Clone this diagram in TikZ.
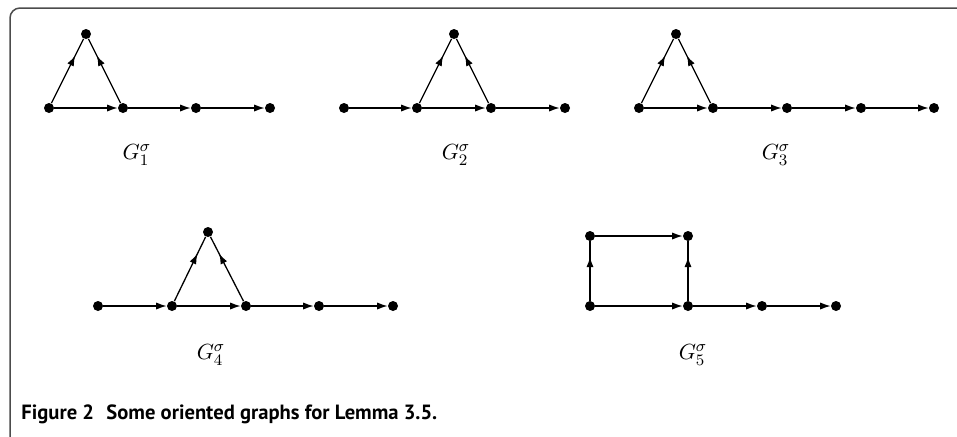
\documentclass[tikz,border=0pt]{standalone}
\usepackage{fontspec}
\newfontfamily\capfont{PT Sans}
\usetikzlibrary{arrows.meta,decorations.markings}
\begin{document}
\begin{tikzpicture}[x=0.5pt,y=-0.5pt,
  vtx/.style={circle,fill,inner sep=0pt,minimum size=5pt},
  arc/.style={line width=0.65pt,-{Latex[length=5.2pt,width=3.6pt]}},
  midarc/.style={line width=0.65pt,postaction={decorate},
    decoration={markings,mark=at position 0.74 with {\arrow{Latex[length=5.2pt,width=3.6pt]}}}},
  lbl/.style={font=\fontsize{11}{13}\selectfont},
  frame/.style={line width=0.75pt,gray!60!black,rounded corners=5pt}]
\useasboundingbox (0,0) rectangle (957,436);
% panel frame
\coordinate (fb) at (10,446);
\coordinate (fc) at (10,8);
\coordinate (fr) at (962,8);
\draw[frame] (fb) -- (fc) -- (fr);

% G1
\node[vtx] (a1) at (49,108) {};
\node[vtx] (a2) at (123,108) {};
\node[vtx] (a3) at (196,108) {};
\node[vtx] (a4) at (270,108) {};
\node[vtx] (a0) at (86,34) {};
\draw[arc] (a1) -- (a2);
\draw[arc] (a2) -- (a3);
\draw[arc] (a3) -- (a4);
\draw[midarc] (a1) -- (a0);
\draw[midarc] (a2) -- (a0);
\node[lbl] (l1) at (137,155) {$G_1^\sigma$};

% G2
\node[vtx] (b1) at (344,108) {};
\node[vtx] (b2) at (417,108) {};
\node[vtx] (b3) at (491,108) {};
\node[vtx] (b4) at (565,108) {};
\node[vtx] (b0) at (454,34) {};
\draw[arc] (b1) -- (b2);
\draw[arc] (b2) -- (b3);
\draw[arc] (b3) -- (b4);
\draw[midarc] (b2) -- (b0);
\draw[midarc] (b3) -- (b0);
\node[lbl] (l2) at (456,155) {$G_2^\sigma$};

% G3
\node[vtx] (c1) at (639,108) {};
\node[vtx] (c2) at (713,108) {};
\node[vtx] (c3) at (787,108) {};
\node[vtx] (c4) at (861,108) {};
\node[vtx] (c5) at (934,108) {};
\node[vtx] (c0) at (676,34) {};
\draw[arc] (c1) -- (c2);
\draw[arc] (c2) -- (c3);
\draw[arc] (c3) -- (c4);
\draw[arc] (c4) -- (c5);
\draw[midarc] (c1) -- (c0);
\draw[midarc] (c2) -- (c0);
\node[lbl] (l3) at (776,155) {$G_3^\sigma$};

% G4
\node[vtx] (d1) at (98,306) {};
\node[vtx] (d2) at (172,306) {};
\node[vtx] (d3) at (246,306) {};
\node[vtx] (d4) at (319,306) {};
\node[vtx] (d5) at (393,306) {};
\node[vtx] (d0) at (208,232) {};
\draw[arc] (d1) -- (d2);
\draw[arc] (d2) -- (d3);
\draw[arc] (d3) -- (d4);
\draw[arc] (d4) -- (d5);
\draw[midarc] (d2) -- (d0);
\draw[midarc] (d3) -- (d0);
\node[lbl] (l4) at (211,355) {$G_4^\sigma$};

% G5
\node[vtx] (e1) at (590,306) {};
\node[vtx] (e2) at (688,306) {};
\node[vtx] (e3) at (762,306) {};
\node[vtx] (e4) at (836,306) {};
\node[vtx] (e5) at (590,236) {};
\node[vtx] (e6) at (688,236) {};
\draw[midarc] (e1) -- (e5);
\draw[arc] (e5) -- (e6);
\draw[midarc] (e2) -- (e6);
\draw[arc] (e1) -- (e2);
\draw[arc] (e2) -- (e3);
\draw[arc] (e3) -- (e4);
\node[lbl] (l5) at (693,355) {$G_5^\sigma$};

% caption
\node[anchor=base west,inner sep=0pt,font=\capfont\bfseries\fontsize{10.3}{12}\selectfont] (cap) at (21,419)
  {Figure 2\hspace{0.6em}Some oriented graphs for Lemma 3.5.};
\end{tikzpicture}
\end{document}
